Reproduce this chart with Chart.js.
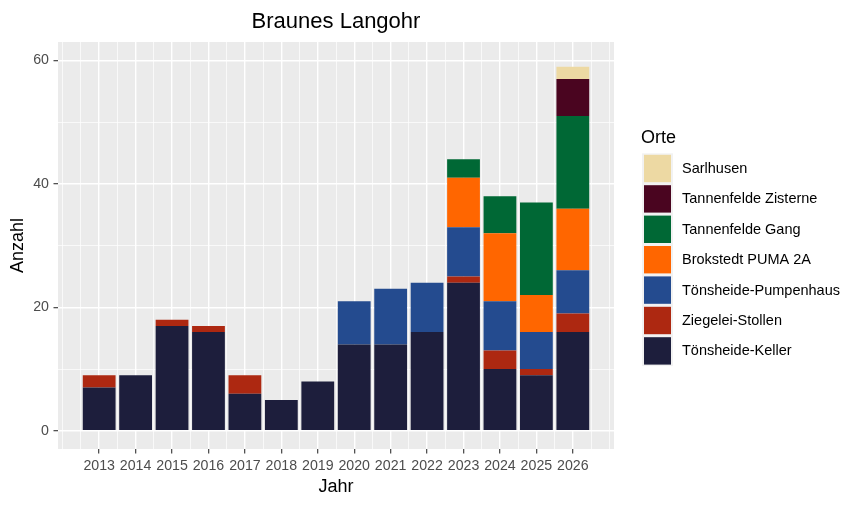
<!DOCTYPE html>
<html>
<head>
<meta charset="utf-8">
<script src="https://cdn.jsdelivr.net/npm/chart.js@4.4.1/dist/chart.umd.min.js"></script>
<style>
  html, body { margin: 0; padding: 0; background: #fff; }
  #wrap { width: 862px; height: 507px; }
</style>
</head>
<body>
<div id="wrap"><canvas id="chart"></canvas></div>
<script>
// Jahre
const years = [2013, 2014, 2015, 2016, 2017, 2018, 2019, 2020, 2021, 2022, 2023, 2024, 2025, 2026];

// Anzahl je Ort (bottom of the stack first)
const keller      = [7, 9, 17, 16, 6, 5, 8, 14, 14, 16, 24, 10, 9, 16];
const ziegelei    = [2, 0, 1, 1, 3, 0, 0, 0, 0, 0, 1, 3, 1, 3];
const pumpenhaus  = [0, 0, 0, 0, 0, 0, 0, 7, 9, 8, 8, 8, 6, 7];
const brokstedt   = [0, 0, 0, 0, 0, 0, 0, 0, 0, 0, 8, 11, 6, 10];
const gang        = [0, 0, 0, 0, 0, 0, 0, 0, 0, 0, 3, 6, 15, 15];
const zisterne    = [0, 0, 0, 0, 0, 0, 0, 0, 0, 0, 0, 0, 0, 6];
const sarlhusen   = [0, 0, 0, 0, 0, 0, 0, 0, 0, 0, 0, 0, 0, 2];

const seriesNames = ['Tönsheide-Keller', 'Ziegelei-Stollen', 'Tönsheide-Pumpenhaus',
  'Brokstedt PUMA 2A', 'Tannenfelde Gang', 'Tannenfelde Zisterne', 'Sarlhusen'];
const seriesValues = [keller, ziegelei, pumpenhaus, brokstedt, gang, zisterne, sarlhusen];
const seriesColors = ['#1d1e3c', '#ad2811', '#244b8f', '#ff6600', '#006835', '#4a0520', '#edd9a3'];

// axis breaks
const yMajor = [0, 20, 40, 60];
const yMinor = [10, 30, 50];

const FONT = "'Liberation Sans', Arial, sans-serif";
const PANEL = '#ebebeb';

// minor x breaks: half way between the years plus one step outside
const xMinor = [];
for (let y = years[0] - 1; y <= years[years.length - 1] + 1; y += 0.5) {
  if (!years.includes(y)) xMinor.push(y);
}

function tickSet(major, minor) {
  return major.concat(minor).sort((a, b) => a - b).map((v) => ({ value: v }));
}

function isMajor(c, major) {
  return !!(c && c.tick && major.includes(c.tick.value));
}

const datasets = seriesNames.map((name, i) => ({
  label: name,
  data: years.map((yr, j) => ({ x: yr, y: seriesValues[i][j] })),
  backgroundColor: seriesColors[i],
  borderWidth: 0,
  barPercentage: 1.8, // ticks sit every half year -> 0.9 of a year
  categoryPercentage: 1.0,
}));

// grey panel behind the grid
const panelBg = {
  id: 'panelBg',
  beforeDraw(chart) {
    const { ctx, chartArea: a } = chart;
    ctx.save();
    ctx.fillStyle = PANEL;
    ctx.fillRect(a.left, a.top, a.right - a.left, a.bottom - a.top);
    ctx.restore();
  },
};

// title and ggplot style legend
const decorations = {
  id: 'decorations',
  afterDraw(chart) {
    const { ctx, chartArea: a } = chart;
    ctx.save();
    ctx.fillStyle = '#000';
    ctx.font = '22px ' + FONT;
    ctx.textAlign = 'center';
    ctx.textBaseline = 'alphabetic';
    ctx.fillText('Braunes Langohr', (a.left + a.right) / 2, 28);

    // legend
    const lx = 642, ly = 153.3, keyW = 31, keyH = 30.4;
    ctx.textAlign = 'left';
    ctx.font = '18px ' + FONT;
    ctx.fillText('Orte', 641, 143);

    const items = chart.data.datasets.slice().reverse();
    ctx.fillStyle = '#f2f2f2';
    ctx.fillRect(lx, ly, keyW, keyH * items.length);
    ctx.font = '14.5px ' + FONT;
    ctx.textBaseline = 'middle';
    items.forEach((ds, i) => {
      const top = ly + i * keyH;
      ctx.fillStyle = ds.backgroundColor;
      ctx.fillRect(lx + 2, top + 1.5, keyW - 4, keyH - 3);
      ctx.fillStyle = '#000';
      ctx.fillText(ds.label, 682, top + keyH / 2 + 0.5);
    });
    ctx.restore();
  },
};

new Chart(document.getElementById('chart'), {
  type: 'bar',
  data: { datasets },
  plugins: [panelBg, decorations],
  options: {
    responsive: true,
    maintainAspectRatio: false,
    animation: false,
    layout: { padding: { top: 42, right: 248, left: 0, bottom: 0 } },
    plugins: {
      legend: { display: false },
      title: { display: false },
      tooltip: { enabled: false },
    },
    scales: {
      x: {
        type: 'linear',
        stacked: true,
        offset: false,
        min: 2011.87,
        max: 2027.13,
        afterBuildTicks: (scale) => { scale.ticks = tickSet(years, xMinor); },
        afterFit: (scale) => { scale.height = 58; },
        border: { display: false },
        grid: {
          offset: false,
          color: '#ffffff',
          lineWidth: (c) => (isMajor(c, years) ? 1.4 : 0.7),
          tickLength: 4.5,
          tickWidth: 1.1,
          tickColor: (c) => (isMajor(c, years) ? '#333333' : 'rgba(0,0,0,0)'),
        },
        ticks: {
          autoSkip: false,
          maxRotation: 0,
          padding: 4.5,
          color: '#4d4d4d',
          font: { family: FONT, size: 14.2 },
          callback: (v) => (years.includes(v) ? String(v) : ''),
        },
        title: {
          display: true,
          text: 'Jahr',
          color: '#000',
          font: { family: FONT, size: 18 },
          padding: { top: 0, bottom: 9.5 },
        },
      },
      y: {
        stacked: true,
        min: -2.95,
        max: 63,
        afterBuildTicks: (scale) => { scale.ticks = tickSet(yMajor, yMinor); },
        afterFit: (scale) => { scale.width = 58; },
        border: { display: false },
        grid: {
          color: '#ffffff',
          lineWidth: (c) => (isMajor(c, yMajor) ? 1.4 : 0.7),
          tickLength: 4.5,
          tickWidth: 1.1,
          tickColor: (c) => (isMajor(c, yMajor) ? '#333333' : 'rgba(0,0,0,0)'),
        },
        ticks: {
          padding: 4.5,
          color: '#4d4d4d',
          font: { family: FONT, size: 14.2 },
          callback: (v) => (yMajor.includes(v) ? String(v) : ''),
        },
        title: {
          display: true,
          text: 'Anzahl',
          color: '#000',
          font: { family: FONT, size: 18 },
          padding: { top: 7.5, bottom: 0 },
        },
      },
    },
  },
});
</script>
</body>
</html>
